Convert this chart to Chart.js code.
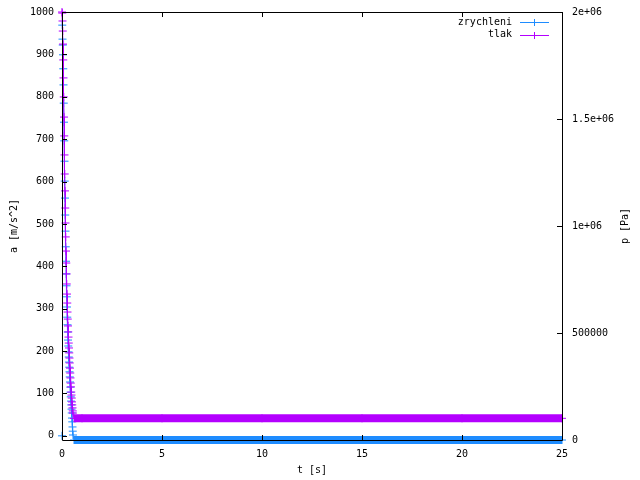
<!DOCTYPE html>
<html>
<head>
<meta charset="utf-8">
<script src="https://cdn.jsdelivr.net/npm/chart.js@4.4.0/dist/chart.umd.min.js"></script>
<style>
  body { margin: 0; background: #fff; }
  canvas { display: block; }
</style>
</head>
<body>
<canvas id="chart" width="640" height="480"></canvas>
<script>
// t [s] - dense during the pressure drop, then a few points on the plateau
const time = [0, 0.0125, 0.025, 0.0375, 0.05, 0.0625, 0.075, 0.0875, 0.1, 0.1125,
  0.125, 0.1375, 0.15, 0.1625, 0.175, 0.1875, 0.2, 0.2125, 0.225, 0.2375,
  0.25, 0.2625, 0.275, 0.2875, 0.3, 0.3125, 0.325, 0.3375, 0.35, 0.3625,
  0.375, 0.3875, 0.4, 0.4125, 0.425, 0.4375, 0.45, 0.4625, 0.475, 0.4875,
  0.5, 0.5125, 0.525, 0.5375, 0.55,
  0.6, 1, 5, 10, 15, 20, 25];

// a [m/s^2]
const zrychleni = [0, 969, 936, 922, 899, 866, 828, 785, 740, 696,
  648, 601, 561, 521, 483, 446, 412, 382, 354, 328,
  304, 280, 262, 245, 226, 212, 198, 186, 174, 162,
  151, 139, 127, 115, 103, 92, 82, 73, 63, 54,
  42, 33, 21, 11, 2,
  -9.81, -9.81, -9.81, -9.81, -9.81, -9.81, -9.81];

// p [Pa]
const tlak = [2000000, 1995000, 1958000, 1911000, 1850000, 1776000, 1692000, 1603000, 1509000, 1421000,
  1332000, 1243000, 1164000, 1084000, 1014000, 949000, 883000, 827000, 776000, 729000,
  682000, 640000, 598000, 565000, 533000, 505000, 481000, 453000, 430000, 407000,
  383000, 360000, 336000, 313000, 290000, 266000, 248000, 224000, 210000, 196000,
  178000, 164000, 150000, 136000, 126000,
  101325, 101325, 101325, 101325, 101325, 101325, 101325];

const xTicks = [0, 5, 10, 15, 20, 25];
const aTicks = [0, 100, 200, 300, 400, 500, 600, 700, 800, 900, 1000];
const pTicks = [0, 500000, 1000000, 1500000, 2000000];
const pTickLabels = ["0", "500000", "1e+06", "1.5e+06", "2e+06"];

const FONT = "DejaVu Sans Mono";
const BLUE = "#1e8cff";
const PURPLE = "#b400ff";
const PLATEAU_T = 0.6;

const setTicks = list => scale => { scale.ticks = list.map(v => ({ value: v })); };

// gnuplot-style frame, inward tick marks, y2 title and a legend inside the plot
const gnuplotFrame = {
  id: "gnuplotFrame",
  afterDraw(chart) {
    const { ctx, chartArea: a, scales } = chart;
    const tl = 5;
    ctx.save();
    ctx.strokeStyle = "#000";
    ctx.lineWidth = 1;
    ctx.beginPath();
    ctx.rect(a.left + 0.5, a.top + 0.5, a.right - a.left, a.bottom - a.top);
    scales.x.ticks.forEach(t => {
      const x = Math.round(scales.x.getPixelForValue(t.value)) + 0.5;
      ctx.moveTo(x, a.bottom); ctx.lineTo(x, a.bottom - tl);
      ctx.moveTo(x, a.top); ctx.lineTo(x, a.top + tl);
    });
    scales.y.ticks.forEach(t => {
      const y = Math.round(scales.y.getPixelForValue(t.value)) + 0.5;
      ctx.moveTo(a.left, y); ctx.lineTo(a.left + tl, y);
    });
    scales.y2.ticks.forEach(t => {
      const y = Math.round(scales.y2.getPixelForValue(t.value)) + 0.5;
      ctx.moveTo(a.right, y); ctx.lineTo(a.right - tl, y);
    });
    ctx.stroke();

    ctx.font = "10px '" + FONT + "'";
    ctx.fillStyle = "#000";

    // y2 title, reading upwards like gnuplot does
    ctx.save();
    ctx.translate(625, (a.top + a.bottom) / 2);
    ctx.rotate(-Math.PI / 2);
    ctx.textAlign = "center";
    ctx.textBaseline = "middle";
    ctx.fillText("p [Pa]", 0, 0);
    ctx.restore();

    // legend
    ctx.textAlign = "right";
    ctx.textBaseline = "middle";
    chart.data.datasets.forEach((ds, i) => {
      const y = 22 + i * 12.5;
      ctx.fillStyle = "#000";
      ctx.fillText(ds.label, 512, y);
      ctx.strokeStyle = ds.borderColor;
      ctx.beginPath();
      ctx.moveTo(520, Math.round(y) + 0.5); ctx.lineTo(549, Math.round(y) + 0.5);
      ctx.moveTo(534.5, Math.round(y) - 3); ctx.lineTo(534.5, Math.round(y) + 4);
      ctx.stroke();
    });
    ctx.restore();
  }
};

const plateauWidth = c => (c.p0.parsed.x >= PLATEAU_T ? 8 : 1);

const fitY = w => s => { s.width = w; s.paddingTop = 0; s.paddingBottom = 0; };

new Chart(document.getElementById("chart"), {
  type: "line",
  data: {
    datasets: [
      {
        label: "zrychleni",
        data: time.map((t, i) => ({ x: t, y: zrychleni[i] })),
        yAxisID: "y",
        borderColor: BLUE,
        backgroundColor: BLUE,
        borderWidth: 1,
        pointStyle: "cross",
        pointRadius: 4,
        pointBorderWidth: 1,
        segment: { borderWidth: plateauWidth },
        order: 2,
        clip: false
      },
      {
        label: "tlak",
        data: time.map((t, i) => ({ x: t, y: tlak[i] })),
        yAxisID: "y2",
        borderColor: PURPLE,
        backgroundColor: PURPLE,
        borderWidth: 1,
        pointStyle: "cross",
        pointRadius: 4,
        pointBorderWidth: 1,
        segment: { borderWidth: plateauWidth },
        order: 1,
        clip: false
      }
    ]
  },
  options: {
    responsive: false,
    animation: false,
    events: [],
    layout: { padding: { top: 12, left: 0, right: 0, bottom: 0 } },
    plugins: { legend: { display: false }, tooltip: { enabled: false } },
    scales: {
      x: {
        type: "linear",
        min: 0,
        max: 25,
        afterBuildTicks: setTicks(xTicks),
        afterFit: s => { s.height = 40; s.paddingLeft = 0; s.paddingRight = 0; },
        grid: { display: false, drawTicks: false },
        border: { display: false },
        ticks: { color: "#000", padding: 8, maxRotation: 0, font: { family: FONT, size: 10 } },
        title: { display: true, text: "t [s]", color: "#000", padding: { top: 0, bottom: 4 }, font: { family: FONT, size: 10 } }
      },
      y: {
        type: "linear",
        position: "left",
        min: -9.81,
        max: 1000,
        afterBuildTicks: setTicks(aTicks),
        afterFit: fitY(62),
        grid: { display: false, drawTicks: false },
        border: { display: false },
        ticks: { color: "#000", padding: 8, font: { family: FONT, size: 10 }, callback: v => String(v) },
        title: { display: true, text: "a [m/s^2]", color: "#000", padding: { top: 8, bottom: 0 }, font: { family: FONT, size: 10 } }
      },
      y2: {
        type: "linear",
        position: "right",
        min: 0,
        max: 2000000,
        afterBuildTicks: setTicks(pTicks),
        afterFit: fitY(78),
        grid: { display: false, drawTicks: false },
        border: { display: false },
        ticks: {
          color: "#000", padding: 10, font: { family: FONT, size: 10 },
          callback: v => pTickLabels[pTicks.indexOf(v)]
        },
        title: { display: false }
      }
    }
  },
  plugins: [gnuplotFrame]
});
</script>
</body>
</html>
